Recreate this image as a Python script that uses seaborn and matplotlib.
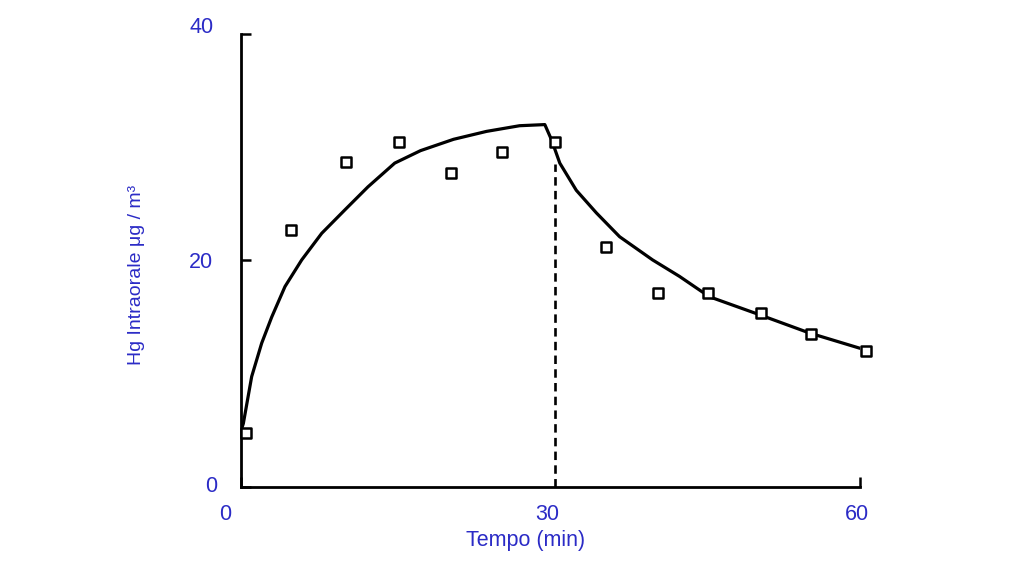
"""Intraoral Hg concentration over time: measured points and fitted curve."""

import matplotlib

matplotlib.use("Agg")
import matplotlib.pyplot as plt
import matplotlib.transforms as mtransforms
import pandas as pd
import seaborn as sns

BLUE = "#2B2BC6"

# measured values (open squares)
sample_time = [0.45, 4.8, 10.2, 15.3, 20.4, 25.3, 30.4, 35.4, 40.4, 45.3, 50.4, 55.3, 60.6]
sample_hg = [4.75, 22.65, 28.7, 30.5, 27.75, 29.55, 30.5, 21.15, 17.15, 17.1, 15.4, 13.5, 12.0]

# fitted curve
curve_time = [0.0, 0.22, 1.03, 2.0, 2.97, 4.26, 5.88, 7.82, 10.1, 12.3, 14.9, 17.4,
              20.6, 23.8, 27.0, 29.45, 30.1, 30.9, 32.5, 34.45, 36.7, 39.9, 42.5,
              45.4, 50.3, 55.1, 60.0]
curve_hg = [5.0, 5.6, 9.75, 12.7, 15.0, 17.7, 20.05, 22.4, 24.5, 26.5, 28.6, 29.7,
            30.7, 31.4, 31.9, 32.0, 30.65, 28.6, 26.2, 24.2, 22.1, 20.05, 18.6,
            16.8, 15.2, 13.6, 12.25]

# end of exposure marker
stop_time = [30.45, 30.45]
stop_hg = [0.0, 28.5]

x_ticks = [0, 30, 60]
y_ticks = [0, 20, 40]


def nudge(label, fig, dx_px: float, dy_px: float) -> None:
    """Shift a tick label by a few pixels, as in the original figure."""
    offset = mtransforms.ScaledTranslation(dx_px / 100, dy_px / 100, fig.dpi_scale_trans)
    label.set_transform(label.get_transform() + offset)


def main() -> None:
    sns.set_theme(style="ticks")
    plt.rcParams["font.family"] = ["Liberation Sans", "DejaVu Sans"]

    samples = pd.DataFrame({"t": sample_time, "hg": sample_hg})
    curve = pd.DataFrame({"t": curve_time, "hg": curve_hg})
    stop = pd.DataFrame({"t": stop_time, "hg": stop_hg})

    fig = plt.figure(figsize=(10.24, 5.76), dpi=100)
    ax = fig.add_axes([0.2354, 0.1545, 0.6044, 0.7865])

    sns.lineplot(data=curve, x="t", y="hg", sort=False, estimator=None,
                 color="black", linewidth=2.3, ax=ax)
    sns.lineplot(data=stop, x="t", y="hg", sort=False, estimator=None,
                 color="black", linewidth=1.9, linestyle=(0, (3.2, 2.0)), ax=ax)
    sns.scatterplot(data=samples, x="t", y="hg", marker="s", s=60,
                    facecolor="white", edgecolor="black", linewidth=1.8,
                    clip_on=False, zorder=5, ax=ax)

    ax.set_xlim(0, 60)
    ax.set_ylim(0, 40)
    ax.set_xticks(x_ticks)
    ax.set_yticks(y_ticks)
    ax.tick_params(direction="in", length=7, width=1.8, labelsize=15.5,
                   labelcolor=BLUE, colors="black")
    ax.tick_params(axis="x", pad=12)
    ax.tick_params(axis="y", pad=20)
    for spine in ("left", "bottom"):
        ax.spines[spine].set_linewidth(2.0)
        ax.spines[spine].set_color("black")
    sns.despine(ax=ax)

    # the 30 min tick is hidden behind the dashed line in the source
    ax.xaxis.get_major_ticks()[1].tick1line.set_visible(False)

    # the source figure has its tick labels slightly off their ticks
    xlabels = ax.get_xticklabels()
    nudge(xlabels[0], fig, -16, 0)
    nudge(xlabels[1], fig, -3, 0)
    nudge(xlabels[2], fig, -3, 0)
    ylabels = ax.get_yticklabels()
    nudge(ylabels[0], fig, 4, 3)
    nudge(ylabels[2], fig, 0, 9)

    ax.set_xlabel("Tempo (min)", color=BLUE, fontsize=15.5)
    ax.xaxis.set_label_coords(0.459, -0.095)
    ax.set_ylabel("Hg Intraorale μg / m³", color=BLUE, fontsize=14)
    ax.yaxis.set_label_coords(-0.155, 0.468)

    fig.savefig("out.png", dpi=100)
    plt.close(fig)


if __name__ == "__main__":
    main()
